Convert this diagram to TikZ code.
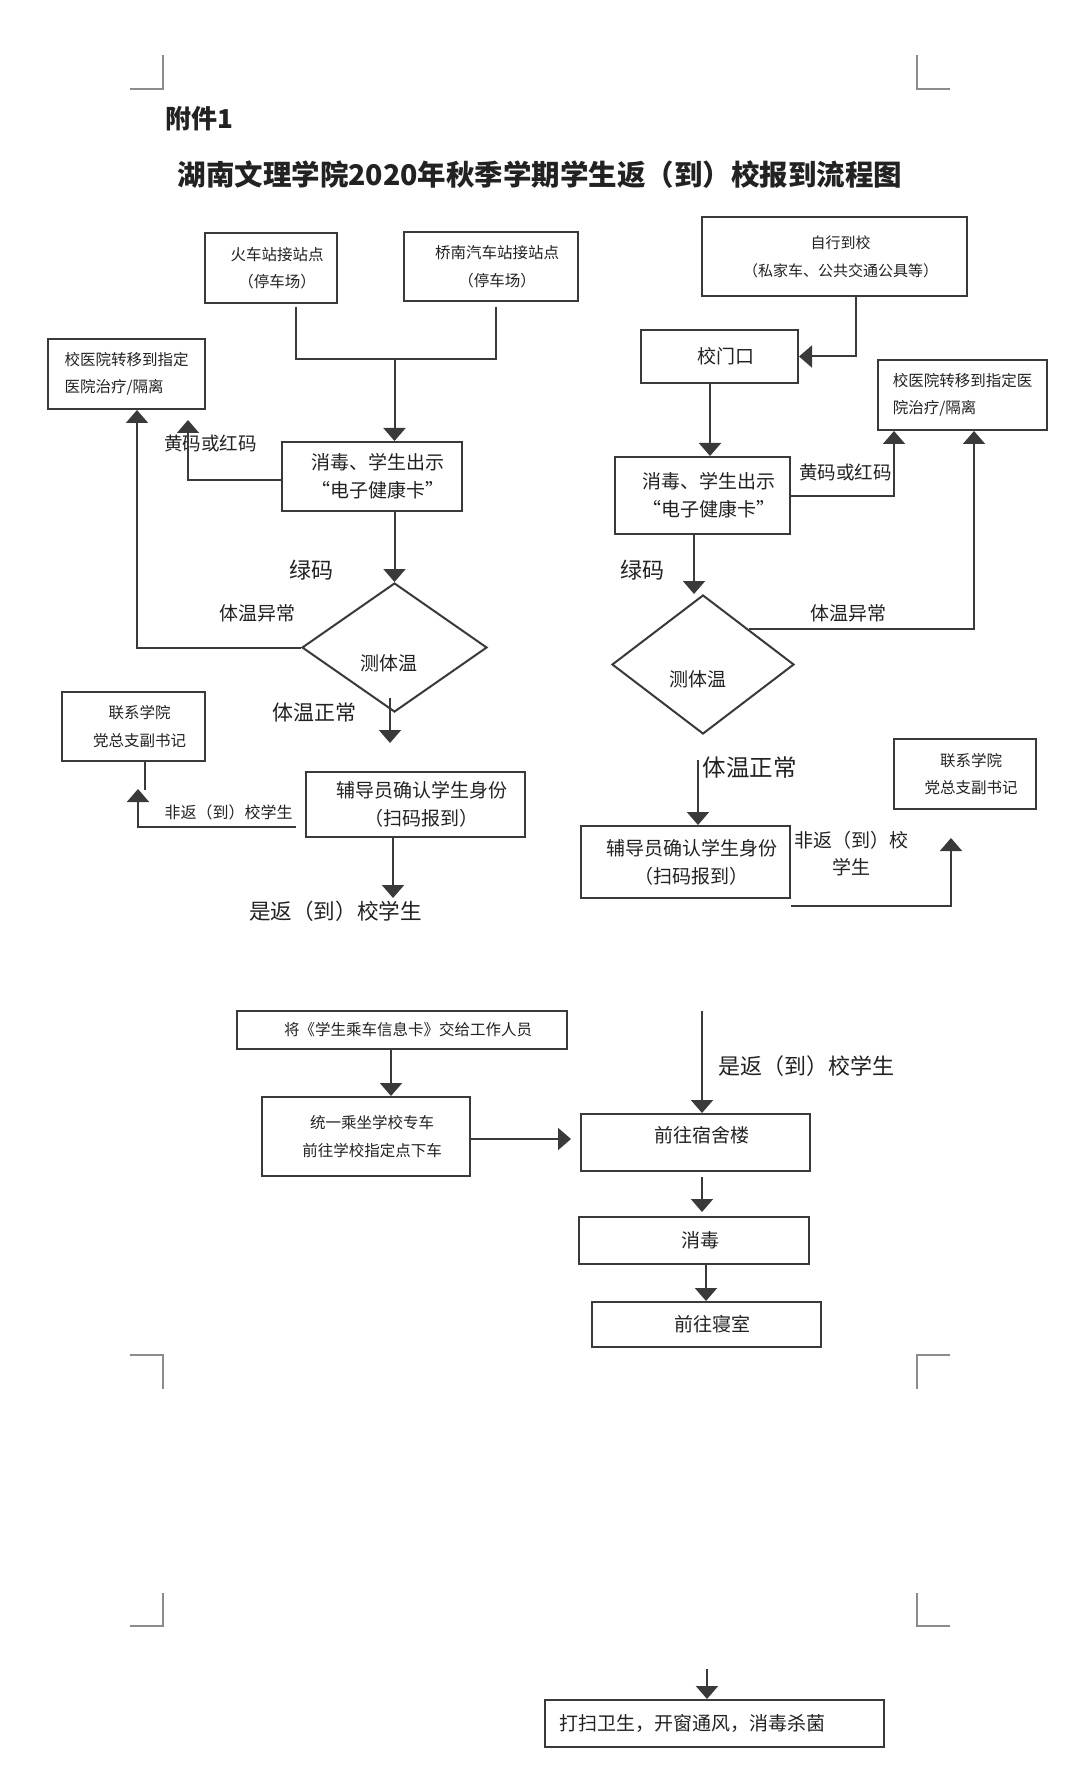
\documentclass[tikz,border=0pt]{standalone}
\usepackage{fontspec}
\setmainfont{Noto Sans CJK SC}
\usetikzlibrary{arrows.meta,shapes.geometric,calc}
\definecolor{lc}{HTML}{3A3A3A}
\definecolor{tc}{HTML}{222222}
\definecolor{cc}{HTML}{8C8C8C}
\newcommand{\tsh}{\hspace*{6pt}}
\begin{document}
\begin{tikzpicture}[x=0.5pt,y=-0.5pt,
  box/.style={draw=lc, line width=1pt, rectangle, inner sep=0pt, align=center, text=tc},
  sm/.style={font=\fontsize{7.75pt}{13.75pt}\selectfont},
  md/.style={font=\fontsize{9.5pt}{14pt}\selectfont},
  lab/.style={inner sep=0pt, text=tc},
  arr/.style={draw=lc, line width=1pt, -{Triangle[width=11pt,length=6.5pt]}},
  ln/.style={draw=lc, line width=1pt},
  crn/.style={draw=cc, line width=1pt},
  dia/.style={draw=lc, line width=1pt, diamond, inner sep=0pt},
]
\fill[white] (0,0) rectangle (1080,1775);
\useasboundingbox (0,0) rectangle (1080,1775);

% corner marks
\draw[crn] (130,89) -- (163,89) -- (163,55);
\draw[crn] (950,89) -- (917,89) -- (917,55);
\draw[crn] (130,1355) -- (163,1355) -- (163,1389);
\draw[crn] (950,1355) -- (917,1355) -- (917,1389);
\draw[crn] (163,1593) -- (163,1626) -- (130,1626);
\draw[crn] (917,1593) -- (917,1626) -- (950,1626);

% titles
\node[lab, font=\fontsize{13pt}{15pt}\selectfont\bfseries, anchor=west] (att) at (165,119) {附件1};
\node[lab, font=\fontsize{14.25pt}{16pt}\selectfont\bfseries] (title) at (540,175) {湖南文理学院2020年秋季学期学生返（到）校报到流程图};

% left column
\node[box, sm, minimum width=66pt, minimum height=35pt] (hc) at (271,268) {\tsh 火车站接站点\\\tsh（停车场）};
\node[box, sm, minimum width=87pt, minimum height=34.5pt] (qn) at (491,266.5) {\tsh 桥南汽车站接站点\\\tsh（停车场）};
\node[box, sm, align=left, minimum width=78.5pt, minimum height=35pt] (hosL) at (126.5,374) {校医院转移到指定\\医院治疗/隔离};
\node[box, md, minimum width=90pt, minimum height=34.5pt] (xdL) at (372,476.5) {\tsh 消毒、学生出示\\\tsh“电子健康卡”};
\node[dia, minimum width=92.5pt, minimum height=64.5pt, label={[lab, md, name=dLt, yshift=-8pt, xshift=-3pt]center:测体温}] (dL) at (394.5,647.5) {};
\node[box, sm, minimum width=71.5pt, minimum height=34.5pt] (lxL) at (133.5,726.5) {\tsh 联系学院\\\tsh 党总支副书记};
\node[box, md, minimum width=109.5pt, minimum height=32.5pt] (fdL) at (415.5,804.5) {\tsh 辅导员确认学生身份\\\tsh（扫码报到）};

\node[lab, font=\fontsize{9.25pt}{11pt}\selectfont] (yhL) at (210.5,443) {黄码或红码};
\node[lab, font=\fontsize{11pt}{13pt}\selectfont] (lmL) at (311.5,570) {绿码};
\node[lab, md] (ycL) at (257.5,613) {体温异常};
\node[lab, font=\fontsize{10.5pt}{12pt}\selectfont] (zcL) at (314,713) {体温正常};
\node[lab, font=\fontsize{8pt}{10pt}\selectfont] (ffL) at (228.5,812) {非返（到）校学生};
\node[lab, font=\fontsize{10.8pt}{13pt}\selectfont] (sfL) at (335.5,911) {是返（到）校学生};

% right column
\node[box, font=\fontsize{7.5pt}{14pt}\selectfont, minimum width=132.5pt, minimum height=39.5pt] (zx) at (834.5,256.5) {\tsh 自行到校\\\tsh（私家车、公共交通公具等）};
\node[box, md, minimum width=78.5pt, minimum height=26.5pt] (xm) at (719.5,356.5) {\tsh 校门口};
\node[box, md, minimum width=87.5pt, minimum height=38.5pt] (xdR) at (702.5,495.5) {\tsh 消毒、学生出示\\\tsh“电子健康卡”};
\node[box, sm, align=left, minimum width=84.5pt, minimum height=35pt] (hosR) at (962.5,395) {校医院转移到指定医\\院治疗/隔离};
\node[dia, minimum width=91pt, minimum height=69.5pt, label={[lab, md, name=dRt, yshift=-7.5pt, xshift=-2.5pt]center:测体温}] (dR) at (703,664.5) {};
\node[box, md, minimum width=104.5pt, minimum height=36pt] (fdR) at (685.5,862) {\tsh 辅导员确认学生身份\\\tsh（扫码报到）};
\node[box, sm, minimum width=71pt, minimum height=35pt] (lxR) at (965,774) {\tsh 联系学院\\\tsh 党总支副书记};

\node[lab, font=\fontsize{9.25pt}{11pt}\selectfont] (yhR) at (845.5,472) {黄码或红码};
\node[lab, font=\fontsize{11pt}{13pt}\selectfont] (lmR) at (642,570) {绿码};
\node[lab, md] (ycR) at (848.5,613) {体温异常};
\node[lab, font=\fontsize{11.75pt}{13pt}\selectfont] (zcR) at (749.5,768) {体温正常};
\node[lab, font=\fontsize{9.5pt}{13.5pt}\selectfont, align=center] (ffR) at (851,853.5) {非返（到）校\\学生};
\node[lab, font=\fontsize{11pt}{13pt}\selectfont] (sfR) at (806.5,1066) {是返（到）校学生};

% bottom
\node[box, sm, minimum width=165pt, minimum height=19pt] (jk) at (402,1030) {\tsh 将《学生乘车信息卡》交给工作人员};
\node[box, sm, minimum width=104pt, minimum height=39.5pt] (ty) at (366,1136.5) {\tsh 统一乘坐学校专车\\\tsh 前往学校指定点下车};
\node[box, md, minimum width=114.5pt, minimum height=28.5pt, text height=0pt, text depth=0pt] (qs) at (695.5,1142.5) {\tsh 前往宿舍楼};
\node[box, md, minimum width=115pt, minimum height=23.5pt] (xd2) at (694,1240.5) {\tsh 消毒};
\node[box, md, minimum width=114.5pt, minimum height=22.5pt] (qq) at (706.5,1324.5) {\tsh 前往寝室};
\node[box, md, minimum width=169.5pt, minimum height=23.5pt, text width=155.5pt, inner xsep=7pt, align=left] (ds) at (714.5,1723.5) {打扫卫生，开窗通风，消毒杀菌};

% connectors left
\coordinate (mj) at (394.5,359);
\draw[ln] ($(hc.south)+(25,3)$) |- (mj);
\draw[ln] ($(qn.south)+(5,5)$) |- (mj);
\draw[arr] (mj) -- (mj |- xdL.north);
\coordinate (tipA) at (188,420);
\draw[arr] ($(xdL.west)+(0,3.5)$) -| (tipA);
\draw[arr] (xdL.south -| dL.north) -- (dL.north);
\draw[arr] (dL.west) -| ($(hosL.south)+(10.5,0)$);
\coordinate (tipB) at (390,743);
\draw[arr] ($(dL.south)+(-4.5,-15)$) -- (tipB);
\coordinate (tipC) at (138,789);
\draw[arr] ($(fdL.west)+(-9,22.5)$) -| (tipC);
\draw[ln] ($(lxL.south)+(11.5,0)$) -- ++(0,28);
\coordinate (tipD) at (393,898);
\draw[arr] ($(fdL.south)+(-22.5,0)$) -- (tipD);

% connectors right
\draw[arr] ($(zx.south)+(21.5,0)$) |- (xm.east);
\draw[arr] ($(xm.south)+(-9.5,0)$) -- ($(xdR.north)+(7.5,0)$);
\draw[arr] (xdR.east) -| ($(hosR.south)+(-68.5,0)$);
\draw[arr] (dR.north east) -| ($(hosR.south)+(11.5,0)$);
\draw[arr] ($(xdR.south)+(-8.5,0)$) -- ($(dR.north)+(-9,0)$);
\coordinate (stE) at (698,760);
\draw[arr] (stE) -- (stE |- fdR.north);
\coordinate (tipF) at (951,838);
\draw[arr] ($(fdR.south east)+(0,7)$) -| (tipF);

% connectors bottom
\draw[arr] ($(jk.south)+(-11,0)$) -- ($(ty.north)+(25,0)$);
\draw[arr] ($(ty.east)+(0,2.5)$) -- ($(ty.east -| qs.west)+(-9,2.5)$);
\coordinate (stG) at (702,1011);
\draw[arr] (stG) -- (stG |- qs.north);
\draw[arr] ($(qs.south)+(6.5,5)$) -- ($(xd2.north)+(8,-4)$);
\draw[arr] ($(xd2.south)+(12,0)$) -- ($(qq.north)+(-0.5,0)$);
\coordinate (stH) at (707,1669);
\draw[arr] (stH) -- (stH |- ds.north);
\end{tikzpicture}
\end{document}
